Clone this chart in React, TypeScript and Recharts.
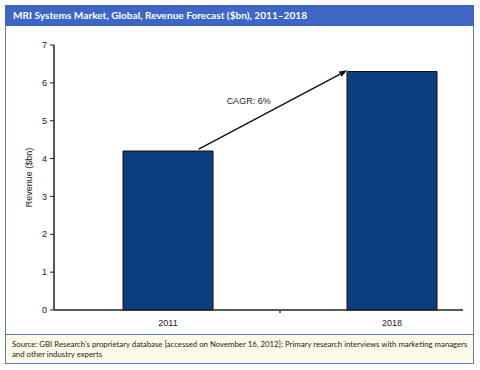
import React from 'react';
import { BarChart, Bar, XAxis, YAxis, ReferenceLine, ReferenceDot } from 'recharts';

const titleText = 'MRI Systems Market, Global, Revenue Forecast ($bn), 2011\u20132018';
const sourceLine1 = "Source: GBI Research\u2019s proprietary database [accessed on November 16, 2012]; Primary research interviews with marketing managers";
const sourceLine2 = 'and other industry experts';
const years = ['2011', '2018'];
const positions = [0, 1];
const revenue = [4.2, 6.3];
const yTicks = [0, 1, 2, 3, 4, 5, 6, 7];
const xTicks = [0, 0.5, 1];
const yAxisLabel = 'Revenue ($bn)';
const cagrLabel = 'CAGR: 6%';
const arrowStart = { x: 0.137, y: 4.25 };
const arrowEnd = { x: 0.8, y: 6.33 };
const cagrAt = { x: 0.36, y: 5.52 };

const data = positions.map((p, i) => ({ x: p, year: years[i], value: revenue[i] }));

const XTick = (props: any) => {
  const { x, y, payload } = props;
  const v = payload.value;
  if (Number.isInteger(v)) {
    return (
      <text x={x} y={y + 16} textAnchor="middle" fontSize={9} fill="#222" fontFamily="Liberation Sans, Arial, sans-serif">
        {years[v]}
      </text>
    );
  }
  return <line x1={x} x2={x} y1={y} y2={y + 3} stroke="#666" strokeWidth={2} />;
};

const ArrowShape = (props: any) => {
  const { x1, y1, x2, y2 } = props;
  const ang = Math.atan2(y2 - y1, x2 - x1);
  const len = 8;
  const w = 3;
  const bx = x2 - len * Math.cos(ang);
  const by = y2 - len * Math.sin(ang);
  const px = -Math.sin(ang) * w;
  const py = Math.cos(ang) * w;
  return (
    <g>
      <line x1={x1} y1={y1} x2={bx} y2={by} stroke="#111" strokeWidth={1.4} />
      <polygon points={`${x2},${y2} ${bx + px},${by + py} ${bx - px},${by - py}`} fill="#111" />
    </g>
  );
};

export default function App() {
  return (
    <div style={{ position: 'absolute', left: 0, top: 0, width: 480, height: 370, background: '#fff', overflow: 'hidden' }}>
      <div style={{ position: 'absolute', left: 5, top: 5, width: 467, height: 357, border: '1px solid #5a7cbd', boxSizing: 'content-box' }} />
      <div style={{ position: 'absolute', left: 5, top: 5, width: 469, height: 21, background: '#3d66c5', color: '#fff', fontFamily: 'Lato, sans-serif', fontWeight: 700, fontSize: 10.1, lineHeight: '21px', paddingLeft: 8, boxSizing: 'border-box', whiteSpace: 'nowrap' }}>
        {titleText}
      </div>
      <div style={{ position: 'absolute', left: 6, top: 334, width: 467, height: 28, background: '#fdfbe8', borderTop: '1px solid #5a7cbd', fontFamily: 'Lato, sans-serif', fontSize: 7.8, lineHeight: '10px', color: '#222', paddingLeft: 6, paddingTop: 4, boxSizing: 'border-box', whiteSpace: 'nowrap', overflow: 'hidden' }}>
        {sourceLine1}
        <br />
        {sourceLine2}
      </div>
      <div style={{ position: 'absolute', left: 0, top: 0 }}>
        <BarChart width={480} height={370} data={data} margin={{ top: 45, right: 17, left: 4, bottom: 40 }}>
          <XAxis
            type="number"
            dataKey="x"
            domain={[-0.509, 1.317]}
            allowDataOverflow
            ticks={xTicks}
            tick={<XTick />}
            tickLine={false}
            tickSize={0}
            tickMargin={0}
            height={20}
            axisLine={{ stroke: '#222', strokeWidth: 1.5 }}
            interval={0}
          />
          <YAxis
            type="number"
            domain={[0, 7]}
            ticks={yTicks}
            width={50}
            tickSize={4}
            tickMargin={3}
            tick={{ fontSize: 9, fill: '#222', fontFamily: 'Liberation Sans, Arial, sans-serif' }}
            tickLine={{ stroke: '#222' }}
            axisLine={{ stroke: '#222', strokeWidth: 1.5 }}
            label={{ value: yAxisLabel, angle: -90, position: 'center', fontSize: 9, fill: '#222', fontFamily: 'Liberation Sans, Arial, sans-serif' }}
          />
          <Bar dataKey="value" fill="#0a3e7e" stroke="#111" strokeWidth={1} barSize={90} isAnimationActive={false} />
          <ReferenceLine segment={[arrowStart, arrowEnd]} ifOverflow="visible" shape={<ArrowShape />} />
          <ReferenceDot
            x={cagrAt.x}
            y={cagrAt.y}
            r={0}
            fill="none"
            stroke="none"
            ifOverflow="visible"
            label={{ value: cagrLabel, position: 'center', fontSize: 9, fill: '#222', fontFamily: 'Liberation Sans, Arial, sans-serif' }}
          />
        </BarChart>
      </div>
    </div>
  );
}
